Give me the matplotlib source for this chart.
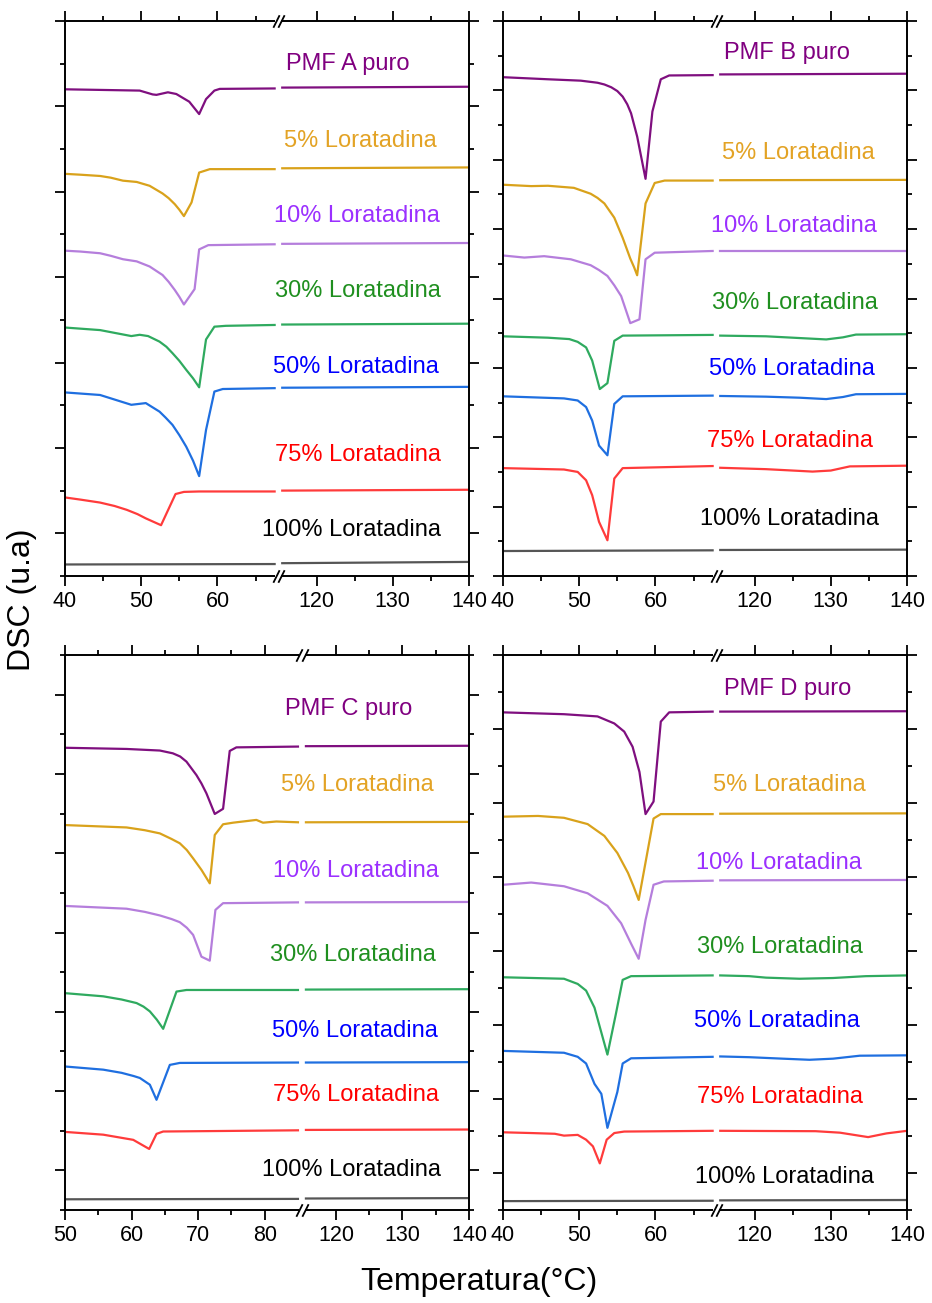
import matplotlib
matplotlib.use("Agg")
import matplotlib.pyplot as plt
import numpy as np
from matplotlib.transforms import blended_transform_factory

plt.rcParams["font.family"] = ["Liberation Sans", "DejaVu Sans"]

SAMPLES = ["PMF {} puro", "5% Loratadina", "10% Loratadina", "30% Loratadina",
           "50% Loratadina", "75% Loratadina", "100% Loratadina"]
LINE_COLORS = ["#7f0f7f", "#d9a21b", "#b57edc", "#2faa5f", "#1f6fe0", "#ff3b3b", "#555555"]
TEXT_COLORS = ["#800080", "#e3a325", "#9b30ff", "#1f8f1f", "#0000ff", "#ff0000", "#000000"]

# DSC traces (temperature in degC, heat flow in arbitrary units, stacked)
PMF_A = [
    ([40, 49.8, 51.5, 52.0, 53.5, 54.6, 56.3, 57.6, 58.5, 59.6, 60.3, 67.5, 115.5, 140],
     [11.40, 11.37, 11.28, 11.27, 11.33, 11.29, 11.11, 10.82, 11.17, 11.37, 11.41, 11.42, 11.44, 11.46]),
    ([40, 42.0, 44.6, 46.0, 47.6, 49.4, 51.1, 52.8, 53.6, 54.4, 55.0, 55.6, 56.6, 57.6, 59.0, 67.5, 115.5, 140],
     [9.42, 9.40, 9.37, 9.33, 9.26, 9.23, 9.14, 8.96, 8.85, 8.71, 8.58, 8.43, 8.75, 9.45, 9.53, 9.53, 9.55, 9.57]),
    ([40, 42.0, 44.6, 46.0, 47.6, 49.4, 51.1, 52.8, 53.6, 54.4, 55.0, 55.6, 57.0, 57.6, 58.8, 67.5, 115.5, 140],
     [7.62, 7.60, 7.56, 7.50, 7.42, 7.37, 7.25, 7.05, 6.89, 6.70, 6.54, 6.36, 6.72, 7.65, 7.75, 7.77, 7.78, 7.80]),
    ([40, 44.6, 48.7, 49.8, 50.9, 52.4, 53.3, 54.1, 55.0, 55.9, 56.8, 57.6, 58.5, 59.6, 61.1, 67.5, 115.5, 140],
     [5.82, 5.76, 5.62, 5.65, 5.62, 5.49, 5.37, 5.22, 5.04, 4.83, 4.63, 4.42, 5.54, 5.84, 5.86, 5.88, 5.89, 5.91]),
    ([40, 44.6, 48.7, 50.6, 52.4, 53.2, 54.1, 55.0, 55.9, 56.8, 57.6, 58.5, 59.6, 60.7, 67.5, 115.5, 140],
     [4.30, 4.24, 4.01, 4.05, 3.85, 3.71, 3.54, 3.30, 3.03, 2.70, 2.34, 3.42, 4.32, 4.38, 4.40, 4.41, 4.43]),
    ([40, 42.0, 44.6, 46.5, 48.1, 49.5, 50.6, 51.6, 52.6, 54.5, 55.6, 57.6, 67.5, 115.5, 140],
     [1.84, 1.79, 1.72, 1.64, 1.55, 1.45, 1.35, 1.27, 1.19, 1.92, 1.97, 1.98, 1.98, 2.00, 2.02]),
    ([40, 67.5, 115.5, 140],
     [0.27, 0.28, 0.30, 0.33]),
]

PMF_B = [
    ([40, 45.9, 50.2, 52.4, 53.3, 54.2, 55.0, 55.7, 56.3, 56.8, 57.6, 58.7, 59.6, 60.7, 61.8, 67.5, 115.5, 140],
     [14.38, 14.32, 14.28, 14.22, 14.17, 14.09, 13.98, 13.82, 13.60, 13.34, 12.67, 11.45, 13.39, 14.32, 14.43, 14.44, 14.46, 14.48]),
    ([40, 43.7, 45.9, 49.3, 51.5, 52.4, 53.3, 54.6, 55.7, 56.7, 57.2, 57.6, 58.7, 59.9, 61.2, 67.5, 115.5, 140],
     [11.28, 11.24, 11.25, 11.19, 11.02, 10.90, 10.74, 10.33, 9.75, 9.15, 8.90, 8.67, 10.74, 11.33, 11.40, 11.40, 11.41, 11.42]),
    ([40, 42.8, 45.4, 48.9, 51.5, 52.6, 53.7, 54.6, 55.5, 56.7, 57.9, 58.7, 59.9, 67.5, 115.5, 140],
     [9.24, 9.18, 9.22, 9.13, 8.96, 8.82, 8.65, 8.38, 8.07, 7.29, 7.40, 9.13, 9.32, 9.37, 9.37, 9.37]),
    ([40, 45.9, 48.7, 49.8, 50.9, 51.7, 52.7, 53.7, 54.6, 55.7, 67.5, 115.5, 121.5, 125.9, 129.4, 131.6, 133.3, 140],
     [6.91, 6.87, 6.83, 6.75, 6.59, 6.21, 5.39, 5.56, 6.78, 6.93, 6.95, 6.93, 6.91, 6.86, 6.82, 6.88, 6.96, 6.97]),
    ([40, 48.0, 49.8, 50.9, 51.7, 52.6, 53.7, 54.6, 55.7, 67.5, 115.5, 121.5, 125.9, 129.4, 131.6, 133.3, 140],
     [5.18, 5.12, 5.06, 4.87, 4.48, 3.76, 3.48, 4.96, 5.18, 5.20, 5.19, 5.17, 5.14, 5.10, 5.16, 5.24, 5.25]),
    ([40, 48.0, 49.8, 50.9, 51.7, 52.6, 53.7, 54.6, 55.7, 67.5, 115.5, 121.5, 125.9, 127.6, 130.0, 132.5, 140],
     [3.11, 3.07, 3.00, 2.76, 2.33, 1.56, 1.03, 2.81, 3.11, 3.17, 3.12, 3.08, 3.03, 3.01, 3.04, 3.16, 3.18]),
    ([40, 67.5, 115.5, 140],
     [0.72, 0.74, 0.75, 0.76]),
]

PMF_C = [
    ([50, 59.25, 64.25, 66.2, 67.3, 68.25, 69.75, 70.5, 71.25, 72.5, 73.75, 74.75, 75.75, 85, 115.5, 140],
     [11.66, 11.63, 11.59, 11.52, 11.44, 11.31, 10.97, 10.76, 10.51, 9.99, 10.12, 11.58, 11.67, 11.69, 11.70, 11.71]),
    ([50, 59.25, 62.0, 64.25, 66.0, 67.25, 68.3, 69.25, 70.5, 71.75, 72.5, 73.75, 75.25, 78.75, 79.75, 81.75, 85, 115.5, 140],
     [9.71, 9.65, 9.58, 9.50, 9.36, 9.25, 9.08, 8.87, 8.58, 8.24, 9.46, 9.73, 9.77, 9.84, 9.77, 9.80, 9.78, 9.78, 9.79]),
    ([50, 59.25, 62.0, 64.25, 66.0, 67.25, 68.3, 69.25, 70.5, 71.75, 72.6, 73.75, 85, 115.5, 140],
     [7.67, 7.60, 7.52, 7.43, 7.34, 7.26, 7.12, 6.94, 6.39, 6.29, 7.57, 7.74, 7.76, 7.76, 7.77]),
    ([50, 55.75, 58.5, 60.75, 61.8, 62.75, 63.8, 64.75, 66.75, 68.25, 85, 115.5, 140],
     [5.47, 5.39, 5.31, 5.22, 5.13, 5.01, 4.80, 4.57, 5.51, 5.55, 5.55, 5.56, 5.57]),
    ([50, 55.75, 58.5, 60.3, 61.25, 62.75, 63.75, 65.75, 67.25, 85, 115.5, 140],
     [3.62, 3.54, 3.46, 3.38, 3.33, 3.16, 2.78, 3.66, 3.71, 3.72, 3.72, 3.73]),
    ([50, 55.75, 60.25, 61.5, 62.65, 63.75, 64.75, 85, 115.5, 140],
     [1.97, 1.90, 1.77, 1.65, 1.54, 1.92, 1.98, 2.01, 2.02, 2.03]),
    ([50, 85, 115.5, 140],
     [0.27, 0.28, 0.29, 0.30]),
]

PMF_D = [
    ([40, 48.0, 52.4, 54.6, 55.9, 57.0, 57.9, 58.7, 59.75, 60.7, 61.8, 67.5, 115.5, 140],
     [13.45, 13.40, 13.34, 13.15, 12.93, 12.52, 11.84, 10.70, 11.04, 13.20, 13.45, 13.47, 13.47, 13.48]),
    ([40, 44.6, 48.0, 51.1, 53.3, 55.0, 56.4, 57.1, 57.8, 59.75, 60.7, 67.5, 115.5, 140],
     [10.63, 10.65, 10.60, 10.43, 10.11, 9.65, 9.11, 8.76, 8.38, 10.58, 10.70, 10.70, 10.71, 10.72]),
    ([40, 43.7, 48.0, 51.1, 53.7, 55.5, 56.8, 57.8, 58.7, 59.75, 61.1, 67.5, 115.5, 140],
     [8.79, 8.85, 8.75, 8.56, 8.22, 7.75, 7.20, 6.79, 7.84, 8.79, 8.88, 8.90, 8.91, 8.92]),
    ([40, 48.0, 49.8, 50.9, 52.0, 53.7, 54.8, 55.7, 56.8, 67.5, 115.5, 119.3, 121.5, 125.9, 130.3, 134.6, 140],
     [6.29, 6.25, 6.11, 5.93, 5.47, 4.20, 5.29, 6.22, 6.32, 6.34, 6.34, 6.32, 6.28, 6.25, 6.27, 6.32, 6.34]),
    ([40, 48.0, 49.8, 50.9, 52.0, 52.9, 53.7, 55.0, 55.7, 56.8, 67.5, 115.5, 119.3, 123.7, 127.2, 130.3, 133.8, 140],
     [4.30, 4.25, 4.14, 3.96, 3.41, 3.14, 2.22, 3.19, 3.96, 4.10, 4.14, 4.15, 4.13, 4.09, 4.06, 4.09, 4.17, 4.18]),
    ([40, 43.7, 46.8, 48.0, 49.8, 50.9, 51.8, 52.7, 53.6, 54.6, 55.9, 67.5, 115.5, 128.0, 131.2, 134.9, 137.3, 140],
     [2.10, 2.08, 2.06, 2.01, 2.03, 1.90, 1.72, 1.26, 1.90, 2.08, 2.12, 2.14, 2.14, 2.13, 2.09, 1.97, 2.07, 2.14]),
    ([40, 67.5, 115.5, 140],
     [0.24, 0.25, 0.26, 0.27]),
]

# broken x axis: (start, end of first segment, start of second segment, end, gap)
SEG_40 = (40, 67.5, 115.5, 140, 1.0)
SEG_50 = (50, 85, 115.5, 140, 1.2)
TICKS_40 = ([40, 50, 60, 120, 130, 140], [45, 55, 65, 125, 135])
TICKS_50 = ([50, 60, 70, 80, 120, 130, 140], [55, 65, 75, 125, 135])


def to_axis(t, seg):
    t = np.asarray(t, dtype=float)
    lo, le, rs, hi, gap = seg
    return np.where(t <= le, t, t - rs + le + gap)


def draw_panel(ax, curves, letter, seg, ticks, ymax, odd_major, label_xy):
    lo, le, rs, hi, gap = seg
    for (temps, vals), color in zip(curves, LINE_COLORS):
        temps = np.asarray(temps, dtype=float)
        vals = np.asarray(vals, dtype=float)
        for mask in (temps <= le, temps >= rs):
            ax.plot(to_axis(temps[mask], seg), vals[mask], color=color, lw=1.6,
                    solid_joinstyle="round")

    for i, (text, color) in enumerate(zip(SAMPLES, TEXT_COLORS)):
        x, y = label_xy[i]
        ax.text(x, y, text.format(letter), transform=ax.transAxes, color=color,
                fontsize=17, ha="center", va="center")

    ax.set_xlim(lo, to_axis(hi, seg))
    ax.set_ylim(0, ymax)
    major, minor = ticks
    ax.set_xticks(to_axis(major, seg))
    ax.set_xticklabels([str(m) for m in major])
    ax.set_xticks(to_axis(minor, seg), minor=True)
    start = 1 if odd_major else 0
    ax.set_yticks(np.arange(start, ymax + 0.5, 2))
    ax.set_yticks(np.arange(1 - start, ymax + 0.5, 2), minor=True)
    ax.tick_params(which="both", direction="out", top=True, right=True,
                   labelleft=False, width=1.3, labelsize=15.5, pad=3)
    ax.tick_params(which="major", length=7.5)
    ax.tick_params(which="minor", length=3.8)
    for spine in ax.spines.values():
        spine.set_linewidth(1.4)

    # break marks on top and bottom spines
    trans = blended_transform_factory(ax.transData, ax.transAxes)
    g0, g1 = float(to_axis(le, seg)), float(to_axis(rs, seg))
    for yy in (0, 1):
        ax.plot([g0 + 0.1, g1 - 0.1], [yy, yy], color="white", lw=3, transform=trans,
                clip_on=False, zorder=5, solid_capstyle="butt")
        ax.plot([g0 + 0.15, g1 - 0.15], [yy, yy], ls="none", marker=[(-1, -2), (1, 2)],
                markersize=9, mew=1.3, color="black", transform=trans,
                clip_on=False, zorder=6)


fig = plt.figure(figsize=(9.32, 13.03), dpi=100)
W, H = 932, 1303


def add_axes(left, top, right, bottom):
    return fig.add_axes([left / W, 1 - bottom / H, (right - left) / W, (bottom - top) / H])


ax_a = add_axes(65, 21, 469, 576)
ax_b = add_axes(503, 21, 907, 576)
ax_c = add_axes(65, 655, 469, 1210)
ax_d = add_axes(503, 655, 907, 1210)

draw_panel(ax_a, PMF_A, "A", SEG_40, TICKS_40, 13, True,
           [(0.700, 0.922), (0.730, 0.784), (0.723, 0.649), (0.725, 0.514),
            (0.720, 0.377), (0.725, 0.218), (0.708, 0.083)])
draw_panel(ax_b, PMF_B, "B", SEG_40, TICKS_40, 16, False,
           [(0.703, 0.942), (0.730, 0.762), (0.720, 0.631), (0.723, 0.492),
            (0.715, 0.373), (0.710, 0.243), (0.710, 0.103)])
draw_panel(ax_c, PMF_C, "C", SEG_50, TICKS_50, 14, True,
           [(0.703, 0.903), (0.723, 0.766), (0.720, 0.611), (0.713, 0.460),
            (0.718, 0.323), (0.720, 0.207), (0.708, 0.072)])
draw_panel(ax_d, PMF_D, "D", SEG_40, TICKS_40, 15, True,
           [(0.705, 0.939), (0.708, 0.766), (0.683, 0.625), (0.686, 0.474),
            (0.678, 0.341), (0.686, 0.204), (0.696, 0.059)])

fig.text(0.024, 0.54, "DSC (u.a)", rotation=90, fontsize=23, ha="center", va="center")
fig.text(0.514, 0.016, "Temperatura(°C)", fontsize=23, ha="center", va="center")

fig.savefig("out.png", dpi=100)
